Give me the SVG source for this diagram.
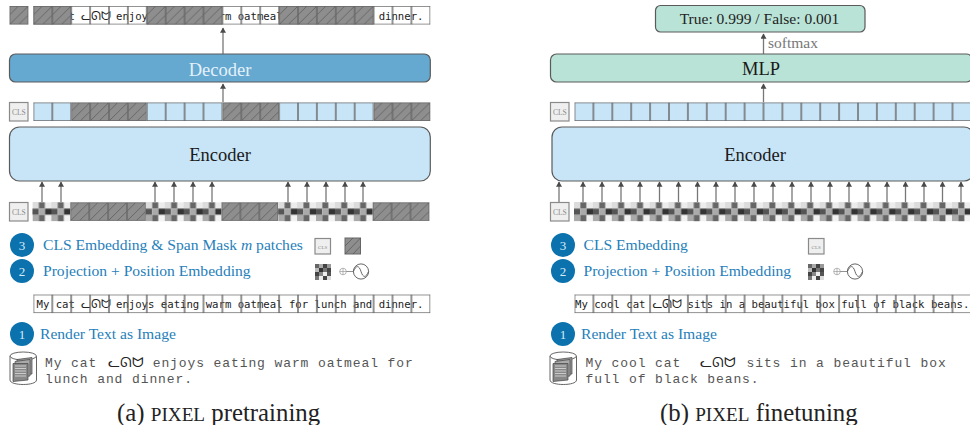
<svg xmlns="http://www.w3.org/2000/svg" xmlns:xlink="http://www.w3.org/1999/xlink" width="970" height="425" viewBox="0 0 970 425">
<style>
text{font-family:"Liberation Serif","Times New Roman",serif}
.box{stroke:#5a5a5a;stroke-width:1.2}
.enc{fill:#c8e4f7}
.dec{fill:#65a8d0}
.mint{fill:#b9e3d6}
.lab{font-size:18.5px;text-anchor:middle;fill:#1a1a1a}
.blue{font-size:15.6px;fill:#2680ba}
.num{font-size:13px;fill:#d8ecf8;text-anchor:middle}
.badge{fill:#0b72ae}
.cls{fill:#efefef;stroke:#8a8a8a;stroke-width:1.2}
.clst{font-size:7.5px;fill:#8a8a8a;text-anchor:middle}
.mono{font-family:"DejaVu Sans Mono",monospace;font-size:10.65px;fill:#222}
.cour{font-family:"Liberation Mono","Courier New",monospace;font-size:13px;letter-spacing:.9px;fill:#555}
.kit{font-family:"DejaVu Sans",sans-serif;fill:#222}
.cap{font-size:24.8px;fill:#222}
.sc{font-size:19.2px}
.ar{stroke:#777;stroke-width:1.3;fill:none;marker-end:url(#a)}
</style>
<defs>
<marker id="a" viewBox="0 0 6 7" refX="5.5" refY="3.5" markerWidth="6" markerHeight="6" markerUnits="userSpaceOnUse" orient="auto"><path d="M0 0L6 3.5L0 7z" fill="#4a4a4a"/></marker>
<pattern id="hatch" patternUnits="userSpaceOnUse" width="18.9" height="18.6">
<rect width="18.9" height="18.6" fill="#8e8e8e"/>
<path d="M0 9L9 0M0 18.6L18.9 0M9 18.6L18.9 9" stroke="#555" stroke-width=".7" fill="none"/>
<rect x=".3" y=".3" width="18.3" height="18" fill="none" stroke="#666" stroke-width=".8"/>
</pattern>
<pattern id="blue" patternUnits="userSpaceOnUse" width="18.9" height="18.6">
<rect width="18.9" height="18.6" fill="#c8e4f7"/>
<rect x=".3" y=".3" width="18.3" height="18" fill="none" stroke="#666" stroke-width=".8"/>
</pattern>
<pattern id="grid" patternUnits="userSpaceOnUse" width="18.9" height="18.6">
<rect x=".3" y=".3" width="18.3" height="18" fill="none" stroke="#666" stroke-width=".8"/>
</pattern>
<pattern id="chk" patternUnits="userSpaceOnUse" width="18.9" height="18.9">
<rect width="6.3" height="6.3" fill="#dcdcdc"/><rect x="6.3" width="6.3" height="6.3" fill="#666"/><rect x="12.6" width="6.3" height="6.3" fill="#ececec"/>
<rect y="6.3" width="6.3" height="6.3" fill="#555"/><rect x="6.3" y="6.3" width="6.3" height="6.3" fill="#aaa"/><rect x="12.6" y="6.3" width="6.3" height="6.3" fill="#333"/>
<rect y="12.6" width="6.3" height="6.3" fill="#aaa"/><rect x="6.3" y="12.6" width="6.3" height="6.3" fill="#666"/><rect x="12.6" y="12.6" width="6.3" height="6.3" fill="#f2f2f2"/>
</pattern>
<g id="chkicon">
<rect width="16" height="16" fill="#666"/>
<rect x="4" width="4" height="4" fill="#aaa"/><rect x="8" width="4" height="4" fill="#444"/><rect x="12" width="4" height="4" fill="#999"/>
<rect y="4" width="4" height="4" fill="#bbb"/><rect x="4" y="4" width="4" height="4" fill="#333"/><rect x="8" y="4" width="4" height="4" fill="#777"/><rect x="12" y="4" width="4" height="4" fill="#444"/>
<rect y="8" width="4" height="4" fill="#444"/><rect x="4" y="8" width="4" height="4" fill="#888"/><rect x="8" y="8" width="4" height="4" fill="#eee"/><rect x="12" y="8" width="4" height="4" fill="#555"/>
<rect y="12" width="4" height="4" fill="#777"/><rect x="4" y="12" width="4" height="4" fill="#eee"/><rect x="8" y="12" width="4" height="4" fill="#444"/><rect x="12" y="12" width="4" height="4" fill="#ddd"/>
</g>
<g id="sine"><circle cx="343" cy="271.5" r="3.3" fill="none" stroke="#999" stroke-width=".7"/><path d="M339.7 271.5H346.3M343 268.2V274.8" stroke="#999" stroke-width=".7"/><path d="M346.3 271.5H353.7" stroke="#777" stroke-width=".8"/><circle cx="361" cy="271.5" r="7.6" fill="#fff" stroke="#555" stroke-width=".9"/><path d="M353.4 271.5C356 265 359 265 361 271.5S366 278 368.6 271.5" fill="none" stroke="#555" stroke-width=".9"/></g>
<g id="cyl"><path d="M10 356V380C10 386 36.5 386 36.5 380V356" fill="#fff" stroke="#666"/><ellipse cx="23.2" cy="356" rx="13.2" ry="4" fill="#fff" stroke="#666"/><path d="M17 359.5L32 357.5V374L17 376z" fill="#999" stroke="#444" stroke-width=".7"/><path d="M15 361.5L30 359.5V376L15 378z" fill="#aaa" stroke="#444" stroke-width=".7"/><path d="M13 363.5H28V380L13 381.5z" fill="#888" stroke="#444" stroke-width=".7"/><path d="M15 366H26M15 368.5H26M15 371H26M15 373.5H26M15 376H26" stroke="#ddd" stroke-width=".8"/></g>
</defs>
<rect width="970" height="425" fill="#fff"/>

<g id="connectors">
<path class="ar" d="M223 54V28"/><path class="ar" d="M223 102V84"/>
<path class="ar" d="M42 202V182"/><path class="ar" d="M61 202V182"/><path class="ar" d="M155 202V182"/><path class="ar" d="M174 202V182"/><path class="ar" d="M193 202V182"/><path class="ar" d="M212 202V182"/><path class="ar" d="M288 202V182"/><path class="ar" d="M307 202V182"/><path class="ar" d="M326 202V182"/><path class="ar" d="M345 202V182"/><path class="ar" d="M363 202V182"/>
<path class="ar" d="M763.500 54V34"/><path class="ar" d="M763.500 102V84"/>
<path class="ar" d="M559 202V182"/><path class="ar" d="M583 202V182"/><path class="ar" d="M602 202V182"/><path class="ar" d="M621 202V182"/><path class="ar" d="M640 202V182"/><path class="ar" d="M659.500 202V182"/><path class="ar" d="M678.500 202V182"/><path class="ar" d="M697.500 202V182"/><path class="ar" d="M716 202V182"/><path class="ar" d="M735 202V182"/><path class="ar" d="M754 202V182"/><path class="ar" d="M773 202V182"/><path class="ar" d="M792 202V182"/><path class="ar" d="M811 202V182"/><path class="ar" d="M830 202V182"/><path class="ar" d="M849 202V182"/><path class="ar" d="M868 202V182"/><path class="ar" d="M887 202V182"/><path class="ar" d="M905.500 202V182"/><path class="ar" d="M924 202V182"/><path class="ar" d="M942.500 202V182"/><path class="ar" d="M961 202V182"/>
</g>

<g id="a-output">
<g transform="translate(9.500,6)"><rect width="18.900" height="18.600" fill="url(#hatch)"/></g>
<rect x="33.400" y="6" width="396.900" height="18.600" fill="#fff"/>
<text class="mono" x="36.500" y="19.500">My cat</text><text class="kit" x="81" y="19.500" font-size="11.500">ᓚᘏᗢ</text>
<text class="mono" x="116" y="19.500">enjoys eating warm oatmeal for lunch and dinner.</text>
<g transform="translate(33.400,6)">
<rect width="396.900" height="18.600" fill="url(#grid)"/>
<rect width="37.800" height="18.600" fill="url(#hatch)"/>
<rect x="113.400" width="75.600" height="18.600" fill="url(#hatch)"/>
<rect x="245.700" width="94.500" height="18.600" fill="url(#hatch)"/>
</g>
</g>
<g id="a-decoder"><rect class="box dec" x="9.500" y="54" width="420.800" height="28" rx="6"/><text class="lab" x="220" y="75.500" style="fill:#e4f1fa">Decoder</text></g>
<g id="a-latent">
<rect class="cls" x="9.500" y="102.500" width="18.500" height="18.500"/><text class="clst" x="18.800" y="114.500">CLS</text>
<g transform="translate(33.400,102.400)">
<rect width="37.800" height="18.600" fill="url(#blue)"/>
<rect x="37.800" width="75.600" height="18.600" fill="url(#hatch)"/>
<rect x="113.400" width="75.600" height="18.600" fill="url(#blue)"/>
<rect x="189" width="56.700" height="18.600" fill="url(#hatch)"/>
<rect x="245.700" width="94.500" height="18.600" fill="url(#blue)"/>
<rect x="340.200" width="56.700" height="18.600" fill="url(#hatch)"/>
</g>
</g>
<g id="a-encoder"><rect class="box enc" x="9.500" y="127" width="420.800" height="54" rx="10"/><text class="lab" x="220" y="161">Encoder</text></g>
<g id="a-embed">
<rect class="cls" x="9.500" y="202.500" width="18.500" height="18.500"/><text class="clst" x="18.800" y="214.500">CLS</text>
<g transform="translate(32.500,202.300)">
<rect width="37.800" height="18.900" fill="url(#chk)"/>
<rect x="37.800" width="75.600" height="18.600" fill="url(#hatch)"/>
<rect x="113.400" width="75.600" height="18.900" fill="url(#chk)"/>
<rect x="189" width="56.700" height="18.600" fill="url(#hatch)"/>
<rect x="245.700" width="94.500" height="18.900" fill="url(#chk)"/>
<rect x="340.200" width="56.700" height="18.600" fill="url(#hatch)"/>
</g>
</g>
<g id="a-step3"><circle class="badge" cx="22" cy="245" r="12"/><text class="num" x="22" y="250">3</text>
<text class="blue" x="43" y="250">CLS Embedding &amp; Span Mask <tspan font-style="italic">m</tspan> patches</text>
<rect class="cls" x="315" y="238.500" width="15.500" height="15.500"/><text class="clst" x="322.700" y="248.500" style="font-size:5px">CLS</text>
<g transform="translate(345,238)"><rect width="15.500" height="16" fill="#8e8e8e" stroke="#666"/><path d="M0 8L8 0M0 16L15.500 0M8 16L15.500 8" stroke="#555" stroke-width=".7"/></g>
</g>
<g id="a-step2"><circle class="badge" cx="22" cy="271" r="12"/><text class="num" x="22" y="276">2</text>
<text class="blue" x="43" y="276">Projection + Position Embedding</text>
<use href="#chkicon" xlink:href="#chkicon" x="315" y="264"/>
<use href="#sine" xlink:href="#sine"/>
</g>
<g id="a-strip">
<rect x="33.400" y="294.500" width="396.900" height="18.600" fill="#fff"/>
<text class="mono" x="36.500" y="307.500">My cat</text><text class="kit" x="81" y="307.500" font-size="11.500">ᓚᘏᗢ</text>
<text class="mono" x="116" y="307.500">enjoys eating warm oatmeal for lunch and dinner.</text>
<g transform="translate(33.400,294.500)"><rect width="396.900" height="18.600" fill="url(#grid)"/></g>
</g>
<g id="a-step1"><circle class="badge" cx="22" cy="334" r="12"/><text class="num" x="22" y="339">1</text>
<text class="blue" x="40" y="339">Render Text as Image</text></g>
<g id="a-data"><use href="#cyl" xlink:href="#cyl"/>
<text class="cour" x="45" y="366.500">My cat</text><text class="kit" x="108" y="366.500" font-size="14">ᓚᘏᗢ</text>
<text class="cour" x="152.700" y="366.500">enjoys eating warm oatmeal for</text>
<text class="cour" x="45" y="383">lunch and dinner.</text></g>
<text id="a-caption" class="cap" x="117" y="421">(a) <tspan class="sc">PIXEL</tspan> pretraining</text>

<g id="b-output"><rect class="box mint" x="655.500" y="5.500" width="209.500" height="26.500" rx="5"/><text x="759.500" y="24" style="font-size:15.500px;text-anchor:middle;fill:#222">True: 0.999 / False: 0.001</text></g>
<text id="b-softmax" x="768" y="47.500" style="font-size:15.500px;fill:#777">softmax</text>
<g id="b-mlp"><rect class="box mint" x="550.500" y="54" width="422" height="28" rx="6"/><text class="lab" x="761" y="75">MLP</text></g>
<g id="b-latent">
<rect class="cls" x="550.500" y="102.500" width="18.500" height="18.500"/><text class="clst" x="559.800" y="114.500">CLS</text>
<g transform="translate(574.500,102.400)"><rect width="396.900" height="18.600" fill="url(#blue)"/></g>
</g>
<g id="b-encoder"><rect class="box enc" x="552" y="127" width="422" height="54" rx="10"/><text class="lab" x="755" y="161">Encoder</text></g>
<g id="b-embed">
<rect class="cls" x="550.500" y="202.500" width="18.500" height="18.500"/><text class="clst" x="559.800" y="214.500">CLS</text>
<g transform="translate(574,202.300)"><rect width="396.900" height="18.900" fill="url(#chk)"/></g>
</g>
<g id="b-step3"><circle class="badge" cx="563" cy="245" r="12"/><text class="num" x="563" y="250">3</text>
<text class="blue" x="583.500" y="250">CLS Embedding</text>
<rect class="cls" x="808.500" y="238.500" width="15.500" height="15.500"/><text class="clst" x="816.200" y="248.500" style="font-size:5px">CLS</text>
</g>
<g id="b-step2"><circle class="badge" cx="563" cy="271" r="12"/><text class="num" x="563" y="276">2</text>
<text class="blue" x="583.500" y="276">Projection + Position Embedding</text>
<use href="#chkicon" xlink:href="#chkicon" x="808" y="264"/>
<use href="#sine" xlink:href="#sine" x="494"/>
</g>
<g id="b-strip">
<rect x="574.500" y="294.500" width="396.900" height="18.600" fill="#fff"/>
<text class="mono" x="575" y="307.500">My cool cat</text><text class="kit" x="652.500" y="307.500" font-size="11.500">ᓚᘏᗢ</text>
<text class="mono" x="687.500" y="307.500">sits in a beautiful box full of black beans.</text>
<g transform="translate(574.500,294.500)"><rect width="396.900" height="18.600" fill="url(#grid)"/></g>
</g>
<g id="b-step1"><circle class="badge" cx="563" cy="334" r="12"/><text class="num" x="563" y="339">1</text>
<text class="blue" x="581" y="339">Render Text as Image</text></g>
<g id="b-data"><use href="#cyl" xlink:href="#cyl" x="540"/>
<text class="cour" x="585.500" y="366.500">My cool cat</text><text class="kit" x="700" y="366.500" font-size="14">ᓚᘏᗢ</text>
<text class="cour" x="746.500" y="366.500">sits in a beautiful box</text>
<text class="cour" x="585.500" y="383">full of black beans.</text></g>
<text id="b-caption" class="cap" x="660" y="421">(b) <tspan class="sc">PIXEL</tspan> finetuning</text>
</svg>
